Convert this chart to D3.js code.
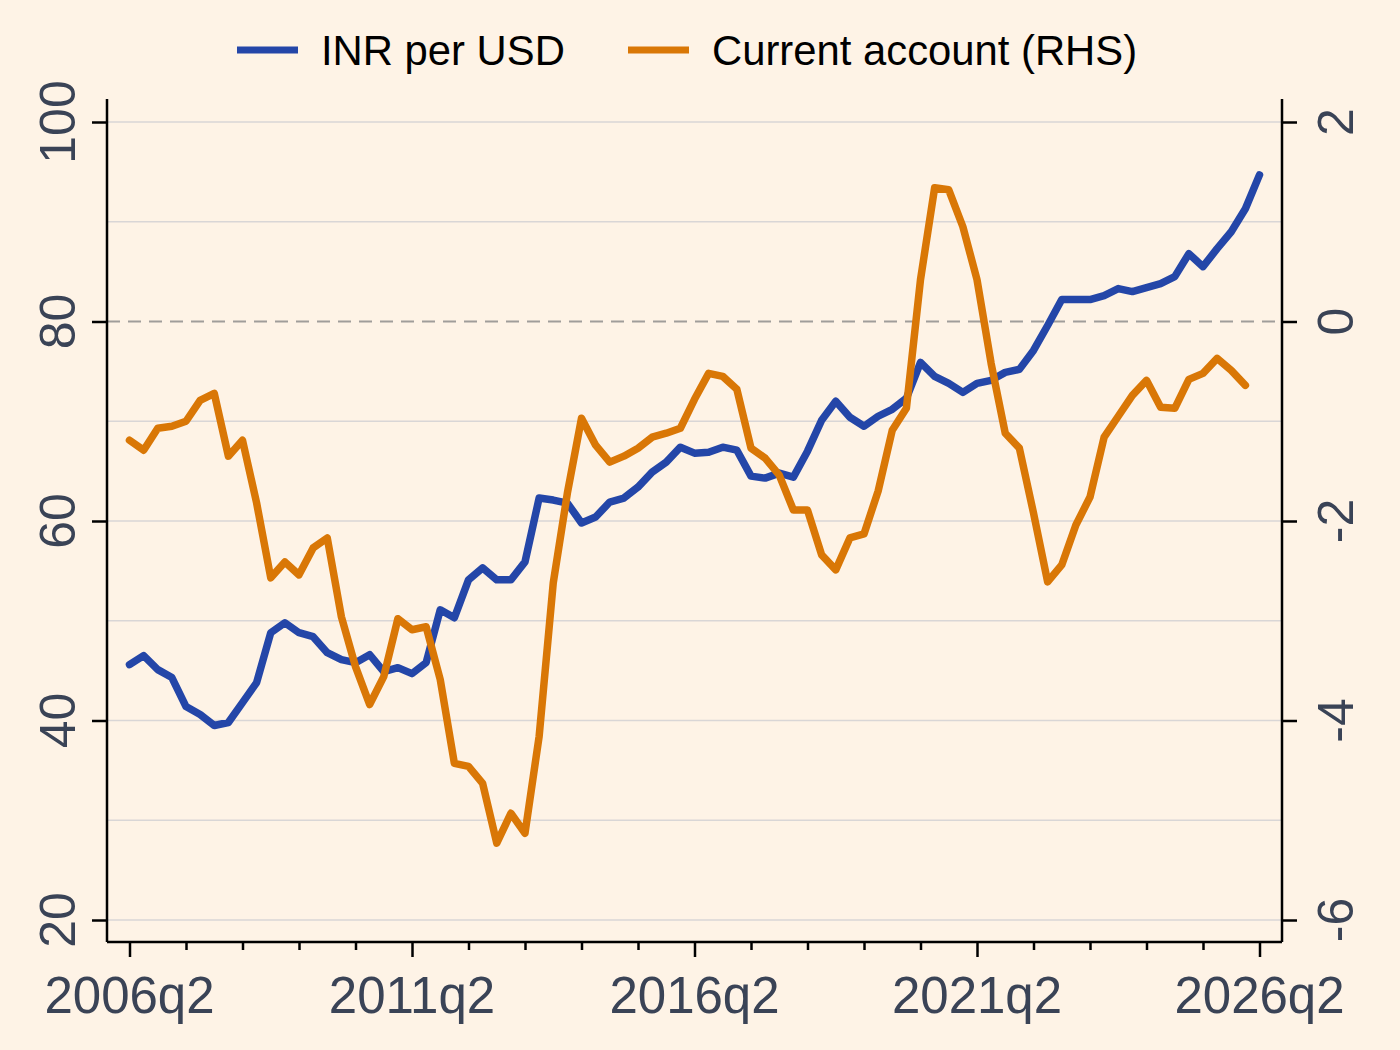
<!DOCTYPE html>
<html>
<head>
<meta charset="utf-8">
<script src="https://cdn.jsdelivr.net/npm/d3@7"></script>
<style>
  body { margin: 0; background: #fef3e6; }
  svg { display: block; font-family: "Liberation Sans", Arial, sans-serif; }
</style>
</head>
<body>
<svg id="drawing_region"></svg>
<script>
// quarters 2006q2 .. 2026q2
const quarters = [];
for (let y = 2006, q = 2; y < 2026 || (y === 2026 && q <= 2); ) {
    quarters.push(y + "q" + q);
    q++; if (q > 4) { q = 1; y++; }
}

const xTickLabels = ["2006q2", "2011q2", "2016q2", "2021q2", "2026q2"];
const leftTicks = [20, 40, 60, 80, 100];
const rightTicks = [-6, -4, -2, 0, 2];
const gridValues = [20, 30, 40, 50, 60, 70, 90, 100];

const inrPerUsd = [
    45.6, 46.5, 45.1, 44.3, 41.4, 40.6, 39.5, 39.8, 41.8, 43.8,
    48.8, 49.8, 48.8, 48.4, 46.8, 46.1, 45.8, 46.6, 44.9, 45.3,
    44.7, 45.8, 51.1, 50.3, 54.1, 55.3, 54.1, 54.1, 55.9, 62.3,
    62.1, 61.8, 59.8, 60.4, 61.9, 62.3, 63.4, 64.9, 65.9, 67.4,
    66.8, 66.9, 67.4, 67.1, 64.5, 64.3, 64.8, 64.4, 67.0, 70.1,
    72.0, 70.4, 69.5, 70.5, 71.2, 72.3, 75.9, 74.5, 73.8, 72.9,
    73.8, 74.1, 74.9, 75.2, 77.1, 79.6, 82.2, 82.2, 82.2, 82.6,
    83.3, 83.0, 83.4, 83.8, 84.5, 86.8, 85.5, 87.3, 89.0, 91.3,
    94.7
];

const currentAccount = [
    -1.19, -1.29, -1.07, -1.05, -1.00, -0.79, -0.72, -1.35, -1.19, -1.82,
    -2.57, -2.41, -2.54, -2.27, -2.17, -2.96, -3.46, -3.84, -3.56, -2.98,
    -3.09, -3.06, -3.59, -4.43, -4.46, -4.63, -5.23, -4.93, -5.13, -4.16,
    -2.62, -1.72, -0.97, -1.24, -1.41, -1.35, -1.27, -1.16, -1.12, -1.07,
    -0.78, -0.52, -0.55, -0.68, -1.27, -1.37, -1.54, -1.89, -1.89, -2.34,
    -2.49, -2.17, -2.13, -1.70, -1.09, -0.87, 0.42, 1.34, 1.32, 0.95,
    0.42, -0.42, -1.12, -1.27, -1.92, -2.61, -2.44, -2.04, -1.76, -1.16,
    -0.95, -0.74, -0.59, -0.86, -0.87, -0.58, -0.52, -0.37, -0.49, -0.64
];

const config = {
    width: 1400, height: 1050,
    left: 107, right: 1282, top: 99, bottom: 942,
    blue: "#2446a8", orange: "#d97706", text: "#3a4356"
};

const svg = d3.select("#drawing_region")
    .attr("width", config.width)
    .attr("height", config.height);

svg.append("rect").attr("width", config.width).attr("height", config.height).attr("fill", "#fef3e6");

const x = d3.scaleLinear().domain([0, quarters.length - 1]).range([129.5, 1259.5]);
const yL = d3.scaleLinear().domain([20, 100]).range([920, 122]);
const yR = d3.scaleLinear().domain([-6, 2]).range([920, 122]);

// gridlines
svg.append("g").selectAll("line")
    .data(gridValues)
    .join("line")
    .attr("x1", config.left).attr("x2", config.right)
    .attr("y1", d => yL(d)).attr("y2", d => yL(d))
    .attr("stroke", "#d9d6d6").attr("stroke-width", 1.5);

// zero line of the right axis
svg.append("line")
    .attr("x1", config.left).attr("x2", config.right)
    .attr("y1", yR(0)).attr("y2", yR(0))
    .attr("stroke", "#a09d9a").attr("stroke-width", 2)
    .attr("stroke-dasharray", "13,8");

// lines
const lineL = d3.line().x((d, i) => x(i)).y(d => yL(d));
const lineR = d3.line().x((d, i) => x(i)).y(d => yR(d));

svg.append("path").datum(inrPerUsd)
    .attr("d", lineL).attr("fill", "none")
    .attr("stroke", config.blue).attr("stroke-width", 7.5)
    .attr("stroke-linejoin", "round").attr("stroke-linecap", "round");

svg.append("path").datum(currentAccount)
    .attr("d", lineR).attr("fill", "none")
    .attr("stroke", config.orange).attr("stroke-width", 7.5)
    .attr("stroke-linejoin", "round").attr("stroke-linecap", "round");

// axes
const leftAxis = svg.append("g").attr("transform", `translate(${config.left},0)`)
    .call(d3.axisLeft(yL).tickValues(leftTicks).tickSize(15).tickFormat(""));
const rightAxis = svg.append("g").attr("transform", `translate(${config.right},0)`)
    .call(d3.axisRight(yR).tickValues(rightTicks).tickSize(15).tickFormat(""));
[leftAxis, rightAxis].forEach(g => {
    g.select(".domain").attr("d", `M0,${config.top}V${config.bottom}`);
    g.selectAll("line, path").attr("stroke", "#000").attr("stroke-width", 2.5);
});

const minorIdx = d3.range(0, quarters.length, 4);
const majorIdx = xTickLabels.map(l => quarters.indexOf(l));
const bottomAxis = svg.append("g").attr("transform", `translate(0,${config.bottom})`);
bottomAxis.call(d3.axisBottom(x).tickValues(minorIdx).tickSize(8).tickFormat(""));
bottomAxis.select(".domain").attr("d", `M${config.left},0H${config.right}`);
bottomAxis.selectAll(".tick").filter(d => majorIdx.includes(d)).select("line").attr("y2", 15);
bottomAxis.selectAll("line, path").attr("stroke", "#000").attr("stroke-width", 2.5);

// tick labels
svg.append("g").selectAll("text")
    .data(xTickLabels)
    .join("text")
    .attr("x", d => x(quarters.indexOf(d)))
    .attr("y", 1013)
    .attr("text-anchor", "middle")
    .attr("fill", config.text)
    .style("font-size", "51px")
    .text(d => d);

svg.append("g").selectAll("text")
    .data(leftTicks)
    .join("text")
    .attr("transform", d => `translate(75,${yL(d)}) rotate(-90)`)
    .attr("text-anchor", "middle")
    .attr("fill", config.text)
    .style("font-size", "50px")
    .text(d => d);

svg.append("g").selectAll("text")
    .data(rightTicks)
    .join("text")
    .attr("transform", d => `translate(1353,${yR(d)}) rotate(-90)`)
    .attr("text-anchor", "middle")
    .attr("fill", config.text)
    .style("font-size", "50px")
    .text(d => d);

// legend
const legendItems = [
    { label: "INR per USD", color: config.blue, x: 237 },
    { label: "Current account (RHS)", color: config.orange, x: 628 }
];
const legend = svg.append("g").selectAll("g")
    .data(legendItems)
    .join("g")
    .attr("transform", d => `translate(${d.x},50)`);
legend.append("line")
    .attr("x1", 0).attr("x2", 61)
    .attr("stroke", d => d.color).attr("stroke-width", 7);
legend.append("text")
    .attr("x", 84).attr("y", 15)
    .attr("fill", "#000")
    .style("font-size", "41.8px")
    .text(d => d.label);
</script>
</body>
</html>
